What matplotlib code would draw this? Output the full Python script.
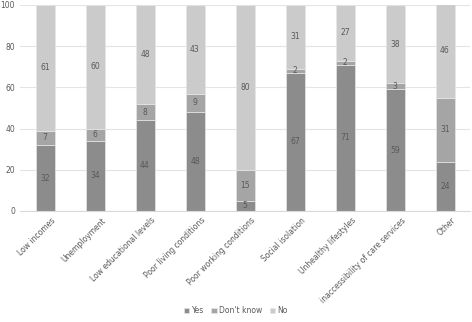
import matplotlib.pyplot as plt
import numpy as np

# Categories and percentages
categories = ['Low incomes', 'Unemployment', 'Low educational levels',
              'Poor living conditions', 'Poor working conditions',
              'Social isolation', 'Unhealthy lifestyles',
              'inaccessibility of care services', 'Other']
yes = [32, 34, 44, 48, 5, 67, 71, 59, 24]
dont_know = [7, 6, 8, 9, 15, 2, 2, 3, 31]
no = [61, 60, 48, 43, 80, 31, 27, 38, 46]

series = [('Yes', yes, '#8c8c8c'),
          ("Don't know", dont_know, '#a5a5a5'),
          ('No', no, '#cbcbcb')]

fig = plt.figure(figsize=(4.72, 3.22), dpi=100)
ax = fig.add_axes([20/472, 1-211/322, 450/472, 206/322])

x = np.arange(len(categories))
bottom = np.zeros(len(categories))
for name, vals, col in series:
    vals = np.array(vals)
    bars = ax.bar(x, vals, 0.38, bottom=bottom, color=col, label=name,
                  edgecolor='#e6e6e6', linewidth=0.5, zorder=2)
    for xi, b, v in zip(x, bottom, vals):
        ax.text(xi, b + v/2, '%d' % v, ha='center', va='center',
                fontsize=5.5, color='#595959', zorder=3)
    bottom += vals

ax.set_xlim(-0.5, len(categories) - 0.5)
ax.set_ylim(0, 100)
ax.set_yticks(range(0, 101, 20))
ax.yaxis.grid(True, color='#e4e4e4', linewidth=0.8, zorder=0)
for s in ['top', 'right', 'left']:
    ax.spines[s].set_visible(False)
ax.spines['bottom'].set_color('#d9d9d9')
ax.tick_params(axis='both', length=0, labelsize=5.5, labelcolor='#595959')
ax.tick_params(axis='y', pad=3.5)
ax.set_xticks(x)
ax.set_xticklabels(categories, rotation=45, ha='right',
                   rotation_mode='anchor')
for lab in ax.get_xticklabels():
    lab.set_transform(lab.get_transform() +
                      plt.matplotlib.transforms.ScaledTranslation(
                          6/100, 0, fig.dpi_scale_trans))

fig.legend(loc='lower center', bbox_to_anchor=(0.5, 0.0), ncol=3,
           frameon=False, fontsize=5.5, handlelength=0.7, handleheight=0.7,
           handletextpad=0.3, columnspacing=1.0, labelcolor='#595959')

fig.savefig('out.png', dpi=100)
